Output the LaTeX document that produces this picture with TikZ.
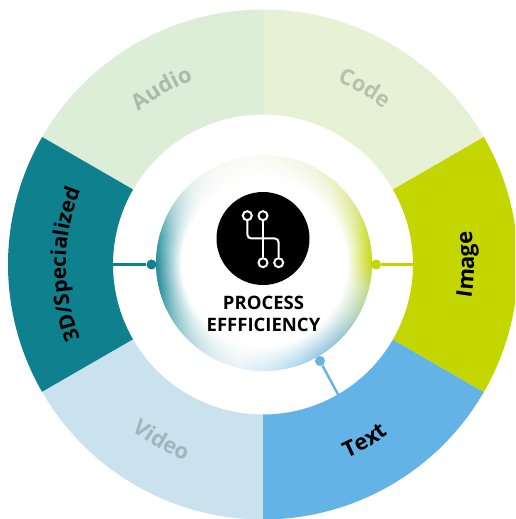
\documentclass[tikz,border=0pt]{standalone}
\usepackage{fontspec}
\usetikzlibrary{fadings,decorations.text}
\setmainfont{Open Sans}
\definecolor{cAudio}{HTML}{DCEED8}
\definecolor{cCode}{HTML}{E6F1D6}
\definecolor{cImage}{HTML}{C4D600}
\definecolor{cText}{HTML}{63B3E6}
\definecolor{cVideo}{HTML}{CAE2EE}
\definecolor{cThreeD}{HTML}{0E808E}
\colorlet{tAudio}{black!22!cAudio}
\colorlet{tCode}{black!20!cCode}
\colorlet{tVideo}{black!20!cVideo}
\pgfdeclareradialshading{corefadeshade}{\pgfpoint{0bp}{0bp}}{color(0bp)=(pgftransparent!0);color(19bp)=(pgftransparent!0);color(21.5bp)=(pgftransparent!42);color(23.5bp)=(pgftransparent!76);color(25bp)=(pgftransparent!100);color(50bp)=(pgftransparent!100)}
\pgfdeclarefading{corefade}{\pgfuseshading{corefadeshade}}
\tikzset{
  dotnode/.style={circle,inner sep=0pt,minimum size=10pt},
  link/.style={line width=2.4pt},
  iconline/.style={draw=white,line width=2pt,rounded corners=4pt},
  iconring/.style={circle,draw=white,fill=black,line width=2pt,inner sep=0pt,minimum size=9pt},
}
\newcommand{\sector}[3]{\fill[#1] (#2:255) arc[start angle=#2,end angle=#3,radius=255] -- (#3:150) arc[start angle=#3,end angle=#2,radius=150] -- cycle;}
% \arclabel[size]{colour}{start angle}{end angle}{radius}{text}
\newcommand{\arclabel}[6][22]{\path[decorate,decoration={text along path,text align=center,text={|\bfseries\fontsize{#1}{26}\selectfont\color{#2}|#6}}] (#3:#5) arc[start angle=#3,end angle=#4,radius=#5];}
\begin{document}
\begin{tikzpicture}[x=1pt,y=1pt]
\useasboundingbox (0,0) rectangle (515,519);
\clip (0,0) rectangle (515,519);
\begin{scope}[shift={(263,254.5)}]
\sector{cCode}{30}{90}
\sector{cAudio}{90}{150}
\sector{cThreeD}{150}{210}
\sector{cVideo}{210}{270}
\sector{cText}{270}{330}
\sector{cImage}{330}{390}
\coordinate (endthree) at (180:151);
\coordinate (endimage) at (0:151);
\coordinate (endtext) at (-60:151.5);
\arclabel[21]{black}{210}{150}{197}{3D/Specialized}
\arclabel{tAudio}{160}{80}{197}{Audio}
\arclabel{tCode}{100}{20}{197}{Code}
\arclabel{black}{-40}{40}{211}{Image}
\arclabel{black}{260}{340}{211}{Text}
\arclabel{tVideo}{200}{280}{211}{Video}
\end{scope}
% glow disc: flat coloured wedges under a white core that fades out towards the rim
\begin{scope}[shift={(264,256)}]
\foreach \a/\ca/\cb in {
 0/C4D600/C9DC30, 15/C9DC30/D8E680, 30/D8E680/E8F0B8, 45/E8F0B8/F0F5D8, 60/F0F5D8/F6F8E8, 75/F6F8E8/FAFBF4, 90/FAFBF4/FAFBF8, 105/FAFBF8/F4F8F2,
 120/F4F8F2/E0EEEE, 135/E0EEEE/A0CCD2, 150/A0CCD2/3FA0AC, 165/3FA0AC/1A8895, 180/1A8895/2A909C, 195/2A909C/70B6BE, 210/70B6BE/B0D6DA, 225/B0D6DA/D8EBEC,
 240/D8EBEC/EAF4F6, 255/EAF4F6/D4EAF4, 270/D4EAF4/B4DAEE, 285/B4DAEE/90C6E2, 300/90C6E2/90C4D4, 315/90C4D4/AAD0B8, 330/AAD0B8/BFD880, 345/BFD880/C4D600} {
  \definecolor{gA}{HTML}{\ca}
  \definecolor{gB}{HTML}{\cb}
  \foreach \s in {0,...,9} {
    \pgfmathsetmacro{\st}{\a+1.5*\s}
    \pgfmathsetmacro{\en}{\st+2.2}
    \pgfmathtruncatemacro{\pc}{100-10*\s}
    \fill[gA!\pc!gB] (0,0) -- (\st:108) arc[start angle=\st,end angle=\en,radius=108] -- cycle;
  }
}
\fill[white,path fading=corefade,fit fading=true] (0,0) circle[radius=108.5];
\end{scope}
\node[circle,fill=black,minimum size=93pt,inner sep=0pt] (badge) at (263,280.5) {};
% icon
\node[iconring] (ringa) at (247.3,303.3) {};
\node[iconring] (ringb) at (263,303.3) {};
\node[iconring] (ringc) at (263,256.3) {};
\node[iconring] (ringd) at (278.7,256.3) {};
\draw[iconline] (ringa) -- (247.3,280.5) -- (278.7,280.5) -- (ringd);
\draw[iconline] (ringb) -- (ringc);
\node[font=\bfseries\fontsize{18.5}{22}\selectfont,align=center,inner sep=0pt] (title) at (263.5,205) {PROCESS\\EFFFICIENCY};
% connectors
\node[dotnode,fill=cThreeD] (dotthree) at (151.5,254.5) {};
\node[dotnode,fill=cImage] (dotimage) at (376,254.5) {};
\node[dotnode,fill=cText] (dottext) at (320,158) {};
\draw[link,cThreeD] (endthree) -- (dotthree);
\draw[link,cImage] (endimage) -- (dotimage);
\draw[link,cText] (endtext) -- (dottext);
\end{tikzpicture}
\end{document}
